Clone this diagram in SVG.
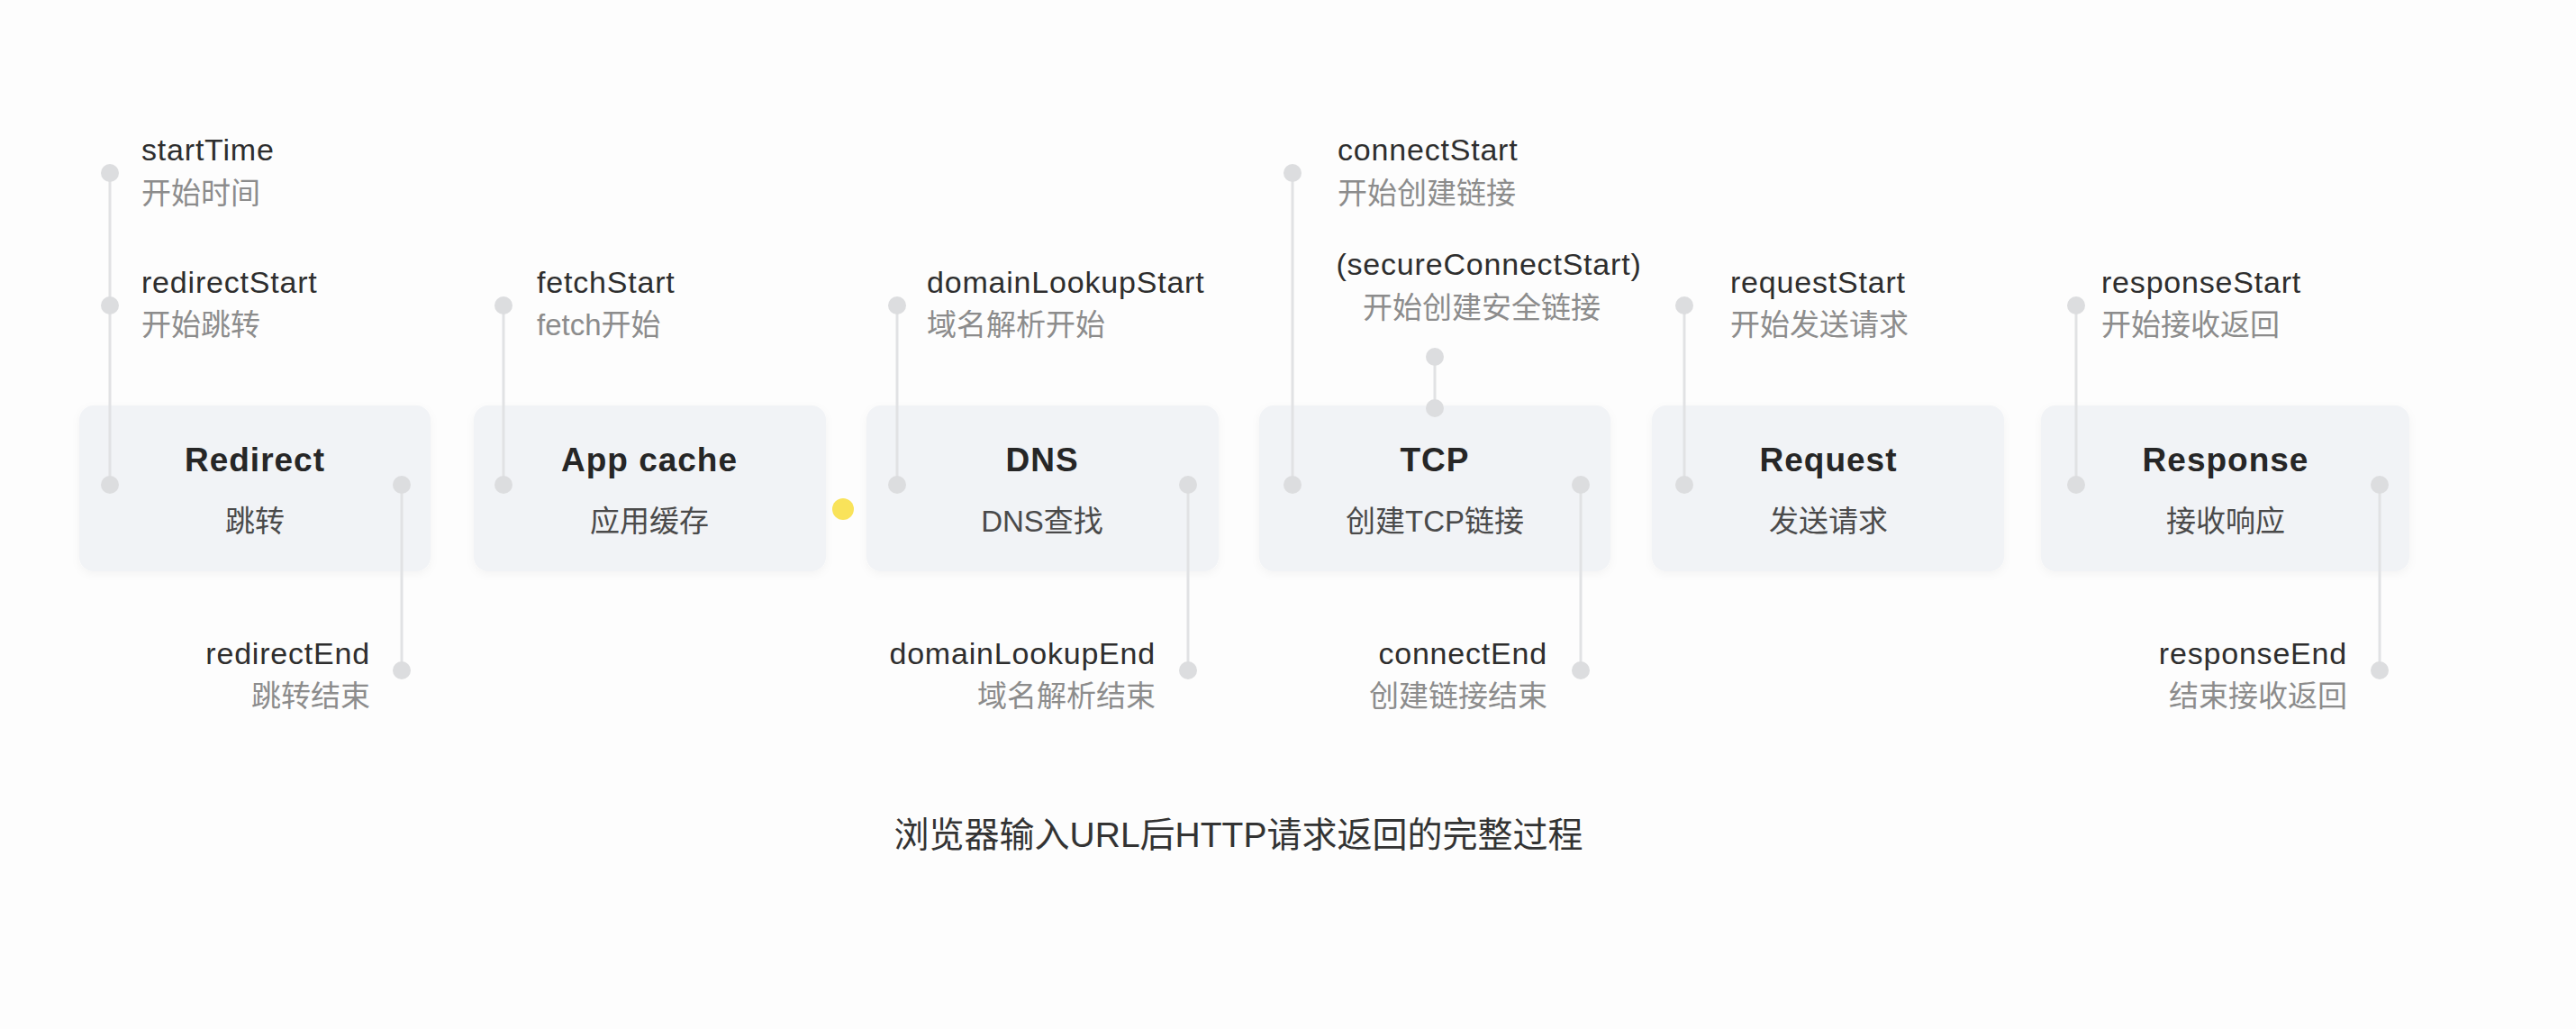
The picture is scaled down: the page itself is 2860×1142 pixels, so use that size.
<svg xmlns="http://www.w3.org/2000/svg" width="2860" height="1142" viewBox="0 0 2860 1142">
  <style>
    text { font-family: "Liberation Sans", "Noto Sans CJK SC", sans-serif; }
    .box { fill: #f1f3f6; }
    .title { font-size: 37px; font-weight: bold; fill: #262626; letter-spacing: 1px; text-anchor: middle; }
    .sub { font-size: 33px; fill: #4a4a4a; text-anchor: middle; }
    .en { font-size: 34px; fill: #2e2e2e; letter-spacing: 0.8px; }
    .zh { font-size: 33px; fill: #8c8c8c; }
    .end { text-anchor: end; }
    .mid { text-anchor: middle; }
    .line { stroke: #e1e2e4; stroke-width: 3; fill: none; }
    .dot { fill: #dcdddf; }
    .caption { font-size: 39px; fill: #333333; text-anchor: middle; }
  </style>
  <defs>
    <filter id="shadow" x="-10%" y="-10%" width="120%" height="130%">
      <feDropShadow dx="0" dy="3" stdDeviation="5" flood-color="#000000" flood-opacity="0.04"/>
    </filter>
  </defs>
  <rect x="0" y="0" width="2860" height="1142" fill="#fdfdfd"/>

  <g id="node-redirect">
    <rect class="box" x="88" y="450" width="390" height="184" rx="16" filter="url(#shadow)"/>
    <text class="title" x="283" y="523">Redirect</text>
    <text class="sub" x="283" y="590">跳转</text>
  </g>
  <g id="node-appcache">
    <rect class="box" x="526" y="450" width="391" height="184" rx="16" filter="url(#shadow)"/>
    <text class="title" x="721" y="523">App cache</text>
    <text class="sub" x="721" y="590">应用缓存</text>
  </g>
  <g id="node-dns">
    <rect class="box" x="962" y="450" width="391" height="184" rx="16" filter="url(#shadow)"/>
    <text class="title" x="1157" y="523">DNS</text>
    <text class="sub" x="1157" y="590">DNS查找</text>
  </g>
  <g id="node-tcp">
    <rect class="box" x="1398" y="450" width="390" height="184" rx="16" filter="url(#shadow)"/>
    <text class="title" x="1593" y="523">TCP</text>
    <text class="sub" x="1593" y="590">创建TCP链接</text>
  </g>
  <g id="node-request">
    <rect class="box" x="1834" y="450" width="391" height="184" rx="16" filter="url(#shadow)"/>
    <text class="title" x="2030" y="523">Request</text>
    <text class="sub" x="2030" y="590">发送请求</text>
  </g>
  <g id="node-response">
    <rect class="box" x="2266" y="450" width="409" height="184" rx="16" filter="url(#shadow)"/>
    <text class="title" x="2471" y="523">Response</text>
    <text class="sub" x="2471" y="590">接收响应</text>
  </g>

  <g id="connectors">
    <line class="line" x1="122" y1="192" x2="122" y2="538"/>
    <line class="line" x1="446" y1="538" x2="446" y2="744"/>
    <line class="line" x1="559" y1="339" x2="559" y2="538"/>
    <line class="line" x1="996" y1="339" x2="996" y2="538"/>
    <line class="line" x1="1319" y1="538" x2="1319" y2="744"/>
    <line class="line" x1="1435" y1="192" x2="1435" y2="538"/>
    <line class="line" x1="1593" y1="396" x2="1593" y2="453"/>
    <line class="line" x1="1755" y1="538" x2="1755" y2="744"/>
    <line class="line" x1="1870" y1="339" x2="1870" y2="538"/>
    <line class="line" x1="2305" y1="339" x2="2305" y2="538"/>
    <line class="line" x1="2642" y1="538" x2="2642" y2="744"/>

    <circle class="dot" cx="122" cy="192" r="10"/>
    <circle class="dot" cx="122" cy="339" r="10"/>
    <circle class="dot" cx="122" cy="538" r="10"/>
    <circle class="dot" cx="446" cy="538" r="10"/>
    <circle class="dot" cx="446" cy="744" r="10"/>
    <circle class="dot" cx="559" cy="339" r="10"/>
    <circle class="dot" cx="559" cy="538" r="10"/>
    <circle class="dot" cx="996" cy="339" r="10"/>
    <circle class="dot" cx="996" cy="538" r="10"/>
    <circle class="dot" cx="1319" cy="538" r="10"/>
    <circle class="dot" cx="1319" cy="744" r="10"/>
    <circle class="dot" cx="1435" cy="192" r="10"/>
    <circle class="dot" cx="1435" cy="538" r="10"/>
    <circle class="dot" cx="1593" cy="396" r="10"/>
    <circle class="dot" cx="1593" cy="453" r="10"/>
    <circle class="dot" cx="1755" cy="538" r="10"/>
    <circle class="dot" cx="1755" cy="744" r="10"/>
    <circle class="dot" cx="1870" cy="339" r="10"/>
    <circle class="dot" cx="1870" cy="538" r="10"/>
    <circle class="dot" cx="2305" cy="339" r="10"/>
    <circle class="dot" cx="2305" cy="538" r="10"/>
    <circle class="dot" cx="2642" cy="538" r="10"/>
    <circle class="dot" cx="2642" cy="744" r="10"/>
  </g>

  <g id="labels">
    <text class="en" x="157" y="178">startTime</text>
    <text class="zh" x="157" y="226">开始时间</text>
    <text class="en" x="157" y="325">redirectStart</text>
    <text class="zh" x="157" y="372">开始跳转</text>
    <text class="en end" x="411" y="737">redirectEnd</text>
    <text class="zh end" x="411" y="784">跳转结束</text>

    <text class="en" x="596" y="325">fetchStart</text>
    <text class="zh" x="596" y="372">fetch开始</text>

    <text class="en" x="1029" y="325">domainLookupStart</text>
    <text class="zh" x="1029" y="372">域名解析开始</text>
    <text class="en end" x="1283" y="737">domainLookupEnd</text>
    <text class="zh end" x="1283" y="784">域名解析结束</text>

    <text class="en" x="1485" y="178">connectStart</text>
    <text class="zh" x="1485" y="226">开始创建链接</text>
    <text class="en mid" x="1653" y="305">(secureConnectStart)</text>
    <text class="zh mid" x="1645" y="353">开始创建安全链接</text>
    <text class="en end" x="1718" y="737">connectEnd</text>
    <text class="zh end" x="1718" y="784">创建链接结束</text>

    <text class="en" x="1921" y="325">requestStart</text>
    <text class="zh" x="1921" y="372">开始发送请求</text>

    <text class="en" x="2333" y="325">responseStart</text>
    <text class="zh" x="2333" y="372">开始接收返回</text>
    <text class="en end" x="2606" y="737">responseEnd</text>
    <text class="zh end" x="2606" y="784">结束接收返回</text>
  </g>

  <circle id="cursor" cx="936" cy="565" r="12" fill="#f9e35a"/>

  <text class="caption" x="1375" y="940">浏览器输入URL后HTTP请求返回的完整过程</text>
</svg>
